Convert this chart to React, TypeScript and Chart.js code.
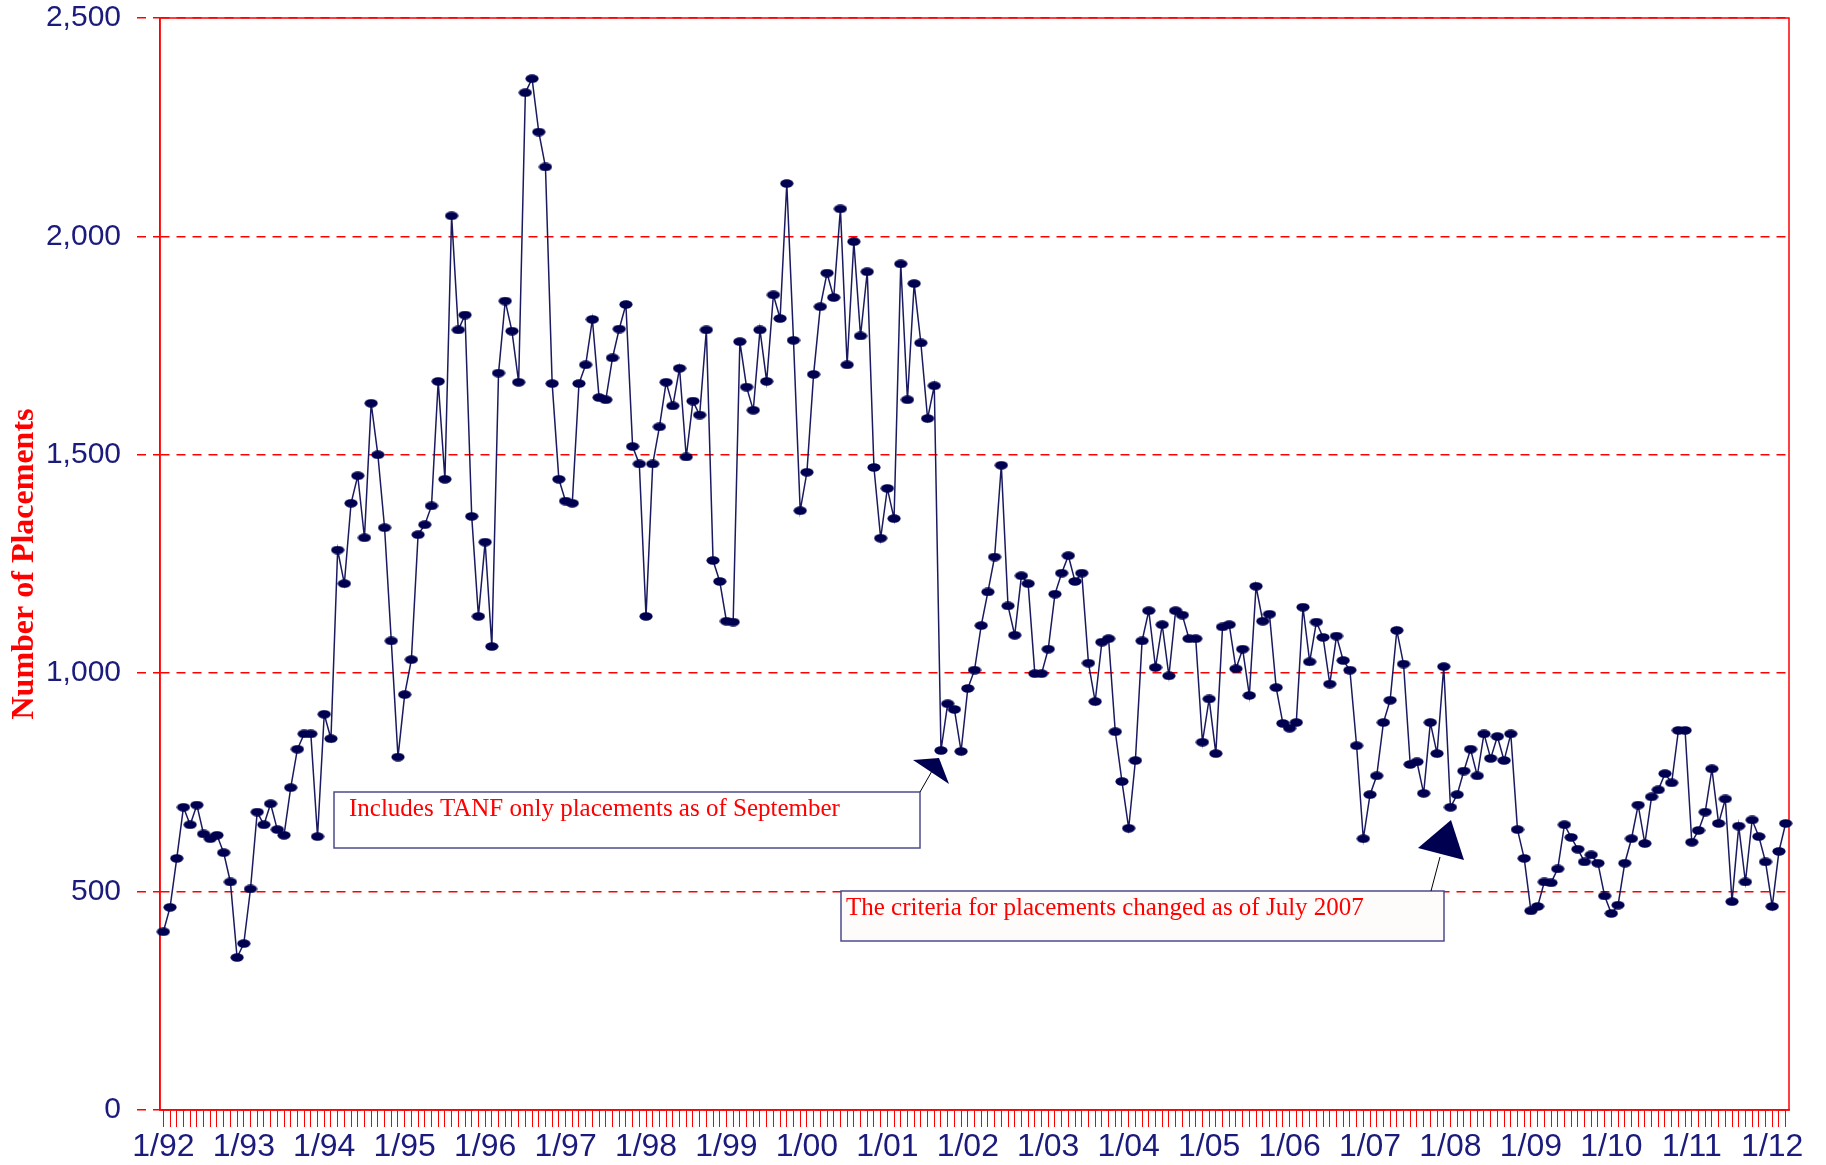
import React, { useEffect, useRef } from "react";
import { Chart, registerables } from "chart.js";

Chart.register(...registerables);

// ---------- data ----------
const START_YEAR = 1992;
const MONTHS_SHOWN = 243; // 1/92 .. 3/12

const categories: string[] = Array.from({ length: MONTHS_SHOWN }, (_, i) => {
  const m = (i % 12) + 1;
  const y = (START_YEAR + Math.floor(i / 12)) % 100;
  return `${m}/${String(y).padStart(2, "0")}`;
});

const placements1992 = [408, 464, 576, 693, 653, 698, 632, 621, 629, 589, 522, 349];
const placements1993 = [381, 506, 682, 653, 701, 642, 629, 738, 826, 861, 861, 626];
const placements1994 = [906, 850, 1282, 1205, 1389, 1452, 1310, 1618, 1500, 1333, 1074, 808];
const placements1995 = [951, 1031, 1317, 1340, 1383, 1668, 1444, 2047, 1786, 1820, 1359, 1130];
const placements1996 = [1300, 1061, 1687, 1852, 1783, 1666, 2329, 2361, 2239, 2159, 1663, 1444];
const placements1997 = [1394, 1389, 1663, 1706, 1810, 1631, 1626, 1722, 1788, 1844, 1519, 1479];
const placements1998 = [1130, 1479, 1564, 1666, 1612, 1698, 1495, 1623, 1591, 1786, 1258, 1210];
const placements1999 = [1119, 1117, 1759, 1655, 1602, 1786, 1668, 1866, 1812, 2121, 1762, 1372];
const placements2000 = [1460, 1684, 1839, 1916, 1860, 2063, 1706, 1988, 1772, 1919, 1471, 1309];
const placements2001 = [1423, 1354, 1937, 1626, 1892, 1756, 1583, 1658, 823, 930, 917, 821];
const placements2002 = [965, 1007, 1109, 1186, 1266, 1476, 1154, 1087, 1223, 1205, 999, 999];
const placements2003 = [1055, 1181, 1229, 1269, 1210, 1229, 1023, 935, 1071, 1079, 866, 752];
const placements2004 = [645, 800, 1074, 1143, 1013, 1111, 994, 1143, 1133, 1079, 1079, 842];
const placements2005 = [941, 816, 1106, 1111, 1010, 1055, 949, 1199, 1119, 1135, 967, 885];
const placements2006 = [874, 887, 1151, 1026, 1117, 1082, 975, 1085, 1029, 1007, 834, 621];
const placements2007 = [722, 765, 887, 938, 1098, 1021, 791, 797, 725, 887, 816, 1015];
const placements2008 = [693, 722, 776, 826, 765, 861, 805, 855, 800, 861, 642, 576];
const placements2009 = [456, 466, 522, 520, 552, 653, 624, 597, 568, 584, 565, 490];
const placements2010 = [450, 469, 565, 621, 698, 610, 717, 733, 770, 749, 869, 869];
const placements2011 = [613, 640, 682, 781, 656, 712, 477, 650, 522, 664, 626, 568];
const placements2012 = [466, 592, 656];

const placements: number[] = [
  ...placements1992, ...placements1993, ...placements1994, ...placements1995,
  ...placements1996, ...placements1997, ...placements1998, ...placements1999,
  ...placements2000, ...placements2001, ...placements2002, ...placements2003,
  ...placements2004, ...placements2005, ...placements2006, ...placements2007,
  ...placements2008, ...placements2009, ...placements2010, ...placements2011,
  ...placements2012,
];

const yTickValues = [0, 500, 1000, 1500, 2000, 2500];
const yAxisTitle = "Number of Placements";
const note1 = "Includes TANF only placements as of September";
const note2 = "The criteria for placements changed as of July 2007";

// ---------- styles ----------
const RED = "#ff0000";
const NAVY_TEXT = "#1b1b7d";
const LINE_COLOR = "#1a1a60";
const MARKER_COLOR = "#000050";
const W = 1826;
const H = 1165;

function makeMarker(): HTMLCanvasElement {
  const c = document.createElement("canvas");
  c.width = 14;
  c.height = 9;
  const g = c.getContext("2d")!;
  g.fillStyle = MARKER_COLOR;
  g.beginPath();
  g.ellipse(7, 4.5, 6.6, 4.2, 0, 0, Math.PI * 2);
  g.fill();
  return c;
}

const framePlugin = {
  id: "frame",
  beforeDatasetsDraw(chart: any) {
    const { ctx, chartArea: a } = chart;
    ctx.save();
    ctx.strokeStyle = RED;
    ctx.lineWidth = 1.5;
    ctx.setLineDash([]);
    ctx.strokeRect(a.left, a.top, a.right - a.left, a.bottom - a.top);
    ctx.restore();
  },
};

const notesPlugin = {
  id: "notes",
  afterDraw(chart: any) {
    const { ctx } = chart;
    ctx.save();
    ctx.setLineDash([]);
    ctx.font = '25px "Liberation Serif"';
    ctx.textBaseline = "alphabetic";
    ctx.textAlign = "left";

    // Note 1 box
    ctx.fillStyle = "#ffffff";
    ctx.fillRect(334, 792, 586, 56);
    ctx.strokeStyle = "#4c4c8c";
    ctx.lineWidth = 1.5;
    ctx.strokeRect(334, 792, 586, 56);
    ctx.fillStyle = RED;
    ctx.fillText(note1, 349, 816);

    // arrow 1
    ctx.strokeStyle = "#000000";
    ctx.lineWidth = 1;
    ctx.beginPath();
    ctx.moveTo(920, 792);
    ctx.lineTo(932, 771);
    ctx.stroke();
    ctx.fillStyle = MARKER_COLOR;
    ctx.beginPath();
    ctx.moveTo(913, 760);
    ctx.lineTo(939, 758);
    ctx.lineTo(949, 784);
    ctx.closePath();
    ctx.fill();

    // Note 2 box
    ctx.fillStyle = "#fdfcfa";
    ctx.fillRect(841, 891, 603, 50);
    ctx.strokeStyle = "#4c4c8c";
    ctx.lineWidth = 1.5;
    ctx.strokeRect(841, 891, 603, 50);
    ctx.fillStyle = RED;
    ctx.fillText(note2, 846, 915);

    // arrow 2
    ctx.strokeStyle = "#000000";
    ctx.lineWidth = 1;
    ctx.beginPath();
    ctx.moveTo(1431, 891);
    ctx.lineTo(1440, 857);
    ctx.stroke();
    ctx.fillStyle = MARKER_COLOR;
    ctx.beginPath();
    ctx.moveTo(1418, 848);
    ctx.lineTo(1451, 820);
    ctx.lineTo(1464, 860);
    ctx.closePath();
    ctx.fill();

    ctx.restore();
  },
};

export default function App() {
  const ref = useRef<HTMLCanvasElement | null>(null);

  useEffect(() => {
    if (!ref.current) return;
    const marker = makeMarker();
    const chart = new Chart(ref.current, {
      type: "line",
      data: {
        labels: categories,
        datasets: [
          {
            data: placements,
            borderColor: LINE_COLOR,
            borderWidth: 1.5,
            tension: 0,
            pointStyle: marker as any,
            pointRadius: 5,
            pointBackgroundColor: MARKER_COLOR,
            pointBorderColor: MARKER_COLOR,
            clip: false as any,
          },
        ],
      },
      options: {
        animation: false,
        responsive: false,
        maintainAspectRatio: false,
        layout: { padding: { left: 0, right: 37, top: 18, bottom: 0 } },
        plugins: {
          legend: { display: false },
          tooltip: { enabled: false },
          title: { display: false },
        },
        scales: {
          x: {
            type: "category",
            offset: true,
            grid: {
              offset: false,
              drawOnChartArea: false,
              drawTicks: true,
              tickLength: 17,
              color: RED,
              lineWidth: 1,
            },
            border: { display: true, color: RED, width: 1.5 },
            ticks: {
              autoSkip: false,
              maxRotation: 0,
              minRotation: 0,
              padding: 1,
              color: NAVY_TEXT,
              font: { family: '"Liberation Sans", Arial, sans-serif', size: 32 },
              callback: (_v: any, i: number) => (i % 12 === 0 ? categories[i] : ""),
            },
            afterFit: (s: any) => {
              s.height = 55;
              s.paddingLeft = 0;
              s.paddingRight = 0;
            },
          },
          y: {
            min: 0,
            max: 2500,
            afterBuildTicks: (s: any) => {
              s.ticks = yTickValues.map((v) => ({ value: v }));
            },
            ticks: {
              padding: 16,
              color: NAVY_TEXT,
              font: { family: '"Liberation Sans", Arial, sans-serif', size: 30 },
              callback: (v: any) => Number(v).toLocaleString("en-US"),
            },
            grid: {
              color: RED,
              lineWidth: 1.5,
              drawTicks: true,
              tickLength: 23,
              tickColor: RED,
              tickBorderDash: [9, 7],
            },
            border: { display: true, color: RED, width: 1.5, dash: [9, 7] },
            title: {
              display: true,
              text: yAxisTitle,
              color: RED,
              font: { family: '"Liberation Serif", "Times New Roman", serif', size: 32, weight: "bold" },
              padding: { top: 6, bottom: 0 },
            },
            afterFit: (s: any) => {
              s.width = 160;
              s.paddingTop = 0;
              s.paddingBottom = 0;
            },
          },
        },
      },
      plugins: [framePlugin, notesPlugin],
    });
    return () => chart.destroy();
  }, []);

  return (
    <div style={{ position: "absolute", left: 0, top: 0, width: W, height: H, background: "#ffffff" }}>
      <canvas ref={ref} width={W} height={H} style={{ display: "block", width: W, height: H }} />
    </div>
  );
}
